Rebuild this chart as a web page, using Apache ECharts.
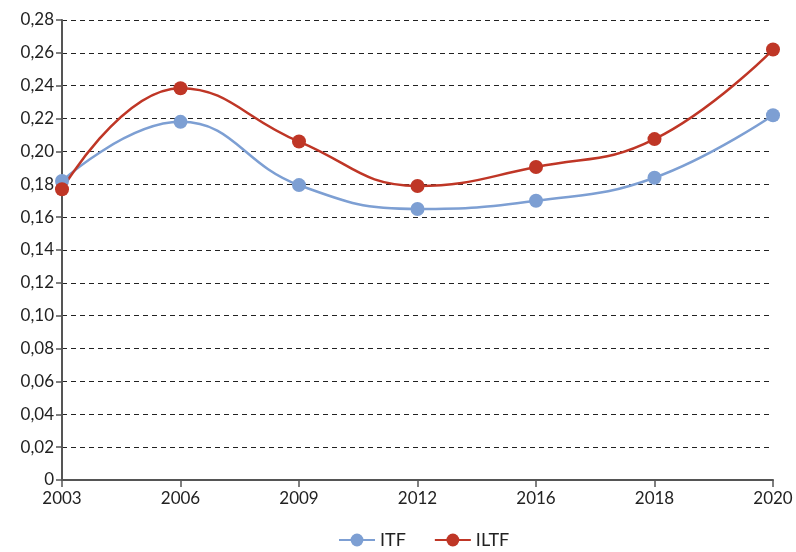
<!DOCTYPE html>
<html>
<head>
<meta charset="utf-8">
<script src="https://cdn.jsdelivr.net/npm/echarts@6/dist/echarts.min.js"></script>
<style>
  html, body { margin: 0; padding: 0; background: #fff; }
  #main { width: 796px; height: 552px; }
</style>
</head>
<body>
<div id="main"></div>
<script>
const years = ['2003', '2006', '2009', '2012', '2016', '2018', '2020'];
const itf = [0.182, 0.218, 0.1795, 0.165, 0.170, 0.184, 0.222];
const iltf = [0.177, 0.2385, 0.206, 0.179, 0.1905, 0.2075, 0.262];

const myChart = echarts.init(document.getElementById('main'));
const font = 'Lato';

const options = {
    animation: false,
    grid: { left: 62, right: 23, top: 20, bottom: 72 },
    legend: {
        bottom: -2,
        left: 333,
        itemWidth: 36,
        itemHeight: 16,
        itemGap: 28,
        textStyle: { fontFamily: font, fontSize: 18, color: '#222' },
        data: ['ITF', 'ILTF']
    },
    xAxis: {
        type: 'category',
        data: years,
        boundaryGap: false,
        axisLine: { lineStyle: { color: '#555', width: 2 } },
        axisTick: { length: 7, lineStyle: { color: '#555', width: 1.5 } },
        axisLabel: { fontFamily: font, fontSize: 17, color: '#222', margin: 10 }
    },
    yAxis: {
        type: 'value',
        min: 0,
        max: 0.28,
        interval: 0.02,
        axisLine: { show: true, lineStyle: { color: '#555', width: 2 } },
        axisTick: { show: true, length: 6, lineStyle: { color: '#555', width: 1.5 } },
        axisLabel: {
            fontFamily: font, fontSize: 17, color: '#222', margin: 8,
            formatter: v => v === 0 ? '0' : v.toFixed(2).replace('.', ',')
        },
        splitLine: { lineStyle: { color: '#222', type: [5, 4], width: 1 } }
    },
    series: [
        {
            name: 'ITF',
            type: 'line',
            data: itf,
            smooth: 0.45,
            symbol: 'circle',
            symbolSize: 14,
            color: '#7d9fd3',
            lineStyle: { width: 2.5 }
        },
        {
            name: 'ILTF',
            type: 'line',
            data: iltf,
            smooth: 0.45,
            symbol: 'circle',
            symbolSize: 14,
            color: '#bf3626',
            lineStyle: { width: 2.5 }
        }
    ]
};
myChart.setOption(options);
</script>
</body>
</html>
